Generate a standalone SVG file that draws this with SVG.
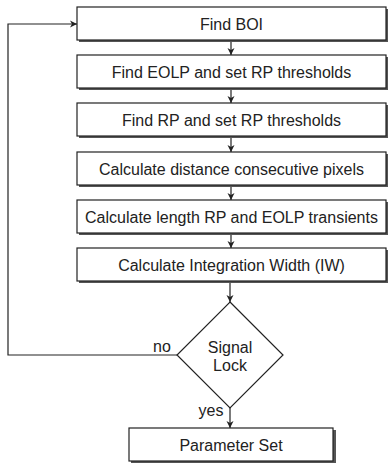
<svg xmlns="http://www.w3.org/2000/svg" width="388" height="466" viewBox="0 0 388 466">
<defs>
<marker id="ah" markerWidth="8" markerHeight="8" refX="7" refY="4" orient="auto" markerUnits="userSpaceOnUse">
<path d="M0,0.5 L7,4 L0,7.5 L2,4 z" fill="#222"/>
</marker>
</defs>
<style>
.box{fill:#fff;stroke:#222;stroke-width:1.2}
.sh{fill:#555}
.t{font-family:"Liberation Sans",Arial,sans-serif;font-size:16px;fill:#222;text-anchor:middle}
.c{fill:none;stroke:#222;stroke-width:1.2}
</style>
<rect width="388" height="466" fill="#fff"/>
<g id="n1"><rect class="sh" x="79" y="9" width="310" height="33"/><rect class="box" x="77" y="7" width="309" height="33"/><text class="t" x="231.5" y="29.5">Find BOI</text></g>
<g id="n2"><rect class="sh" x="79" y="57" width="310" height="33"/><rect class="box" x="77" y="55" width="309" height="33"/><text class="t" x="231.5" y="77.5">Find EOLP and set RP thresholds</text></g>
<g id="n3"><rect class="sh" x="79" y="105" width="310" height="33"/><rect class="box" x="77" y="103" width="309" height="33"/><text class="t" x="231.5" y="125.5">Find RP and set RP thresholds</text></g>
<g id="n4"><rect class="sh" x="79" y="154" width="310" height="33"/><rect class="box" x="77" y="152" width="309" height="33"/><text class="t" x="231.5" y="174.5">Calculate distance consecutive pixels</text></g>
<g id="n5"><rect class="sh" x="79" y="202" width="310" height="33"/><rect class="box" x="77" y="200" width="309" height="33"/><text class="t" x="231.5" y="222.5">Calculate length RP and EOLP transients</text></g>
<g id="n6"><rect class="sh" x="79" y="250" width="310" height="33"/><rect class="box" x="77" y="248" width="309" height="33"/><text class="t" x="231.5" y="270.5">Calculate Integration Width (IW)</text></g>
<g id="n7"><polygon points="230,302 283,355 230,408 177,355" fill="#fff" stroke="#222" stroke-width="1.2"/><text class="t" x="230" y="352.5">Signal</text><text class="t" x="230" y="370.5">Lock</text></g>
<g id="n8"><rect class="sh" x="131" y="430" width="205" height="33"/><rect class="box" x="129" y="428" width="204" height="33"/><text class="t" x="231" y="450.5">Parameter Set</text></g>
<g id="connectors">
<line class="c" x1="231" y1="42" x2="231" y2="55" marker-end="url(#ah)"/>
<line class="c" x1="231" y1="90" x2="231" y2="103" marker-end="url(#ah)"/>
<line class="c" x1="231" y1="138" x2="231" y2="152" marker-end="url(#ah)"/>
<line class="c" x1="231" y1="187" x2="231" y2="200" marker-end="url(#ah)"/>
<line class="c" x1="231" y1="235" x2="231" y2="248" marker-end="url(#ah)"/>
<line class="c" x1="230" y1="283" x2="230" y2="302" marker-end="url(#ah)"/>
<line class="c" x1="230" y1="408" x2="230" y2="428" marker-end="url(#ah)"/>
<polyline class="c" points="177,355 8,355 8,24 77,24" marker-end="url(#ah)"/>
<text class="t" x="162" y="352">no</text>
<text class="t" x="211" y="416">yes</text>
</g>
</svg>
